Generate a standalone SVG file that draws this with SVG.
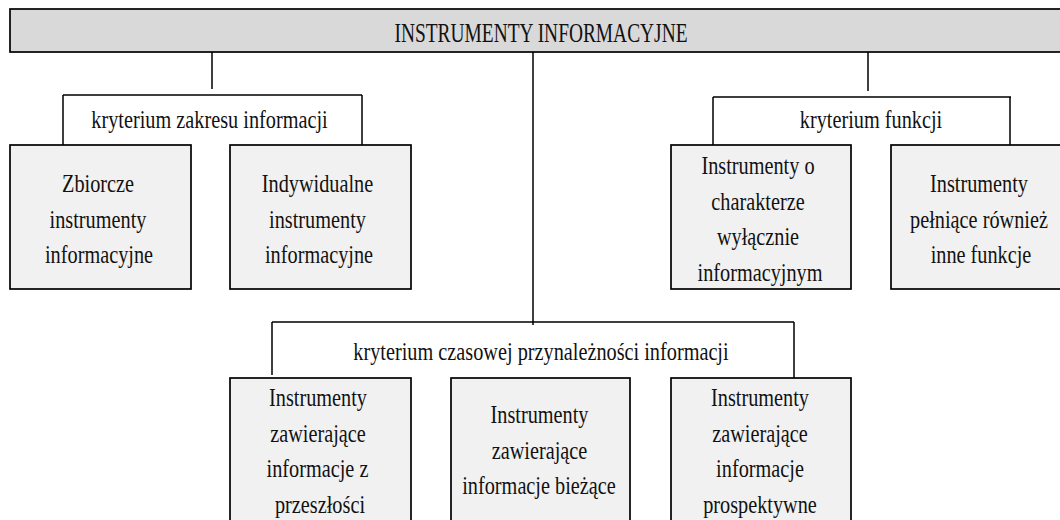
<svg xmlns="http://www.w3.org/2000/svg" width="1060" height="520" viewBox="0 0 1060 520">
  <style>
    .box { fill: #f1f1f1; stroke: #000; stroke-width: 1.7; }
    .banner { fill: #d9d9d9; stroke: #000; stroke-width: 1.7; }
    .ln { fill: none; stroke: #000; stroke-width: 1.5; }
    text { font-family: 'Liberation Serif', 'DejaVu Serif', serif; font-size: 26px; fill: #111; text-anchor: middle; }
    .title { font-size: 27px; }
  </style>
  <rect width="1060" height="520" fill="#fff"/>

  <!-- connectors -->
  <g id="connectors">
    <!-- scope criterion branch -->
    <path class="ln" d="M212,52 V89 M63,95 H362 M63,95 V145 M362,95 V147"/>
    <!-- function criterion branch -->
    <path class="ln" d="M868,52 V91 M713,97 H1011 M713,97 V145 M1010,97 V145"/>
    <!-- time criterion branch -->
    <path class="ln" d="M533,52 V325 M272,322 H794 M272,322 V375 M794,322 V379"/>
  </g>

  <g id="root">
    <rect class="banner" x="10" y="9" width="1060" height="43"/>
    <text class="title" x="541" y="42" textLength="293" lengthAdjust="spacingAndGlyphs">INSTRUMENTY INFORMACYJNE</text>
  </g>

  <g id="label-scope">
    <text transform="translate(209.5,127.5) scale(0.78,1)">kryterium zakresu informacji</text>
  </g>
  <g id="label-function">
    <text transform="translate(871,127.5) scale(0.78,1)">kryterium funkcji</text>
  </g>
  <g id="label-time">
    <text transform="translate(541,360) scale(0.78,1)">kryterium czasowej przynależności informacji</text>
  </g>

  <g id="node-zbiorcze">
    <rect class="box" x="10" y="145" width="181" height="144"/>
    <text transform="translate(98,192) scale(0.78,1)">Zbiorcze</text>
    <text transform="translate(98,227.5) scale(0.78,1)">instrumenty</text>
    <text transform="translate(99,263) scale(0.78,1)">informacyjne</text>
  </g>

  <g id="node-indywidualne">
    <rect class="box" x="230" y="145" width="181" height="144"/>
    <text transform="translate(317.5,192) scale(0.78,1)">Indywidualne</text>
    <text transform="translate(317.5,227.5) scale(0.78,1)">instrumenty</text>
    <text transform="translate(319,263) scale(0.78,1)">informacyjne</text>
  </g>

  <g id="node-wylacznie">
    <rect class="box" x="671" y="145" width="180" height="144"/>
    <text transform="translate(758,174) scale(0.78,1)">Instrumenty o</text>
    <text transform="translate(758,209.5) scale(0.78,1)">charakterze</text>
    <text transform="translate(758,245) scale(0.78,1)">wyłącznie</text>
    <text transform="translate(760,280.5) scale(0.78,1)">informacyjnym</text>
  </g>

  <g id="node-inne">
    <rect class="box" x="891" y="145" width="180" height="144"/>
    <text transform="translate(979,192) scale(0.78,1)">Instrumenty</text>
    <text transform="translate(979,227.5) scale(0.78,1)">pełniące również</text>
    <text transform="translate(981,263) scale(0.78,1)">inne funkcje</text>
  </g>

  <g id="node-przeszlosc">
    <rect class="box" x="230" y="378" width="181" height="160"/>
    <text transform="translate(318,406) scale(0.78,1)">Instrumenty</text>
    <text transform="translate(318,441.5) scale(0.78,1)">zawierające</text>
    <text transform="translate(317.5,477) scale(0.78,1)">informacje z</text>
    <text transform="translate(320,512.5) scale(0.78,1)">przeszłości</text>
  </g>

  <g id="node-biezace">
    <rect class="box" x="451" y="378" width="179" height="160"/>
    <text transform="translate(539.5,423) scale(0.78,1)">Instrumenty</text>
    <text transform="translate(539.5,458.5) scale(0.78,1)">zawierające</text>
    <text transform="translate(539,494) scale(0.78,1)">informacje bieżące</text>
  </g>

  <g id="node-prospektywne">
    <rect class="box" x="671" y="378" width="180" height="160"/>
    <text transform="translate(760,406) scale(0.78,1)">Instrumenty</text>
    <text transform="translate(760,441.5) scale(0.78,1)">zawierające</text>
    <text transform="translate(760,477) scale(0.78,1)">informacje</text>
    <text transform="translate(760,512.5) scale(0.78,1)">prospektywne</text>
  </g>
</svg>
